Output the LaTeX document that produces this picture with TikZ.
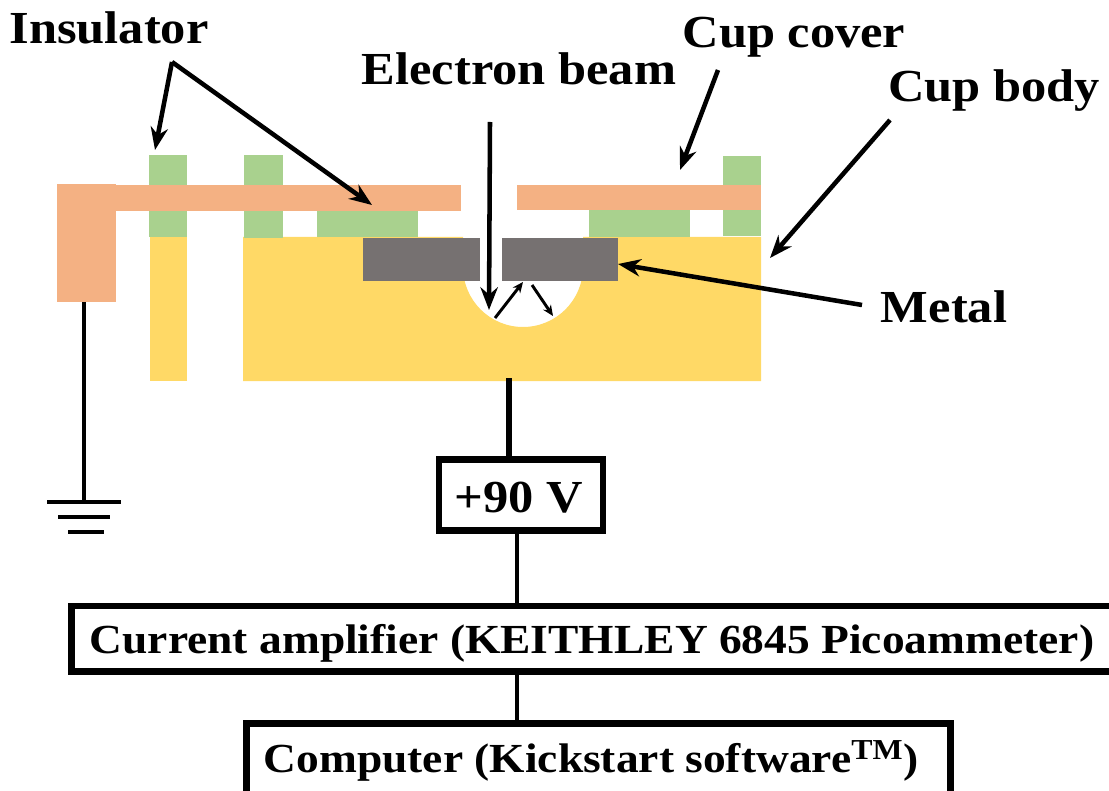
\documentclass[tikz,border=0pt]{standalone}
\usepackage{fontspec}
\setmainfont[FakeStretch=1.1]{Liberation Serif}
\usetikzlibrary{arrows.meta}
\definecolor{cover_c}{HTML}{F4B183}
\definecolor{ins_c}{HTML}{A9D18E}
\definecolor{body_c}{HTML}{FFD966}
\definecolor{metal_c}{HTML}{767171}
\tikzset{
	part_cover/.style = {
		fill=cover_c
	},
	part_ins/.style = {
		fill=ins_c
	},
	part_body/.style = {
		fill=body_c
	},
	part_metal/.style = {
		fill=metal_c
	},
	node_label/.style = {
		inner sep=0pt,
		anchor=base,
		font=\fontsize{34.4}{40}\selectfont\bfseries
	},
	node_box/.style = {
		node_label,
		rectangle,
		anchor=center,
		draw=black,
		fill=white,
		line width=5pt,
		font=\fontsize{31}{36}\selectfont\bfseries
	},
	leader/.style = {
		-{Stealth[length=17pt,width=13pt]},
		line width=3.4pt
	},
	leader_thin/.style = {
		-{Stealth[length=8pt,width=7pt]},
		line width=2.2pt
	},
	wire/.style = {
		line width=3pt
	},
}
\newcommand{\boxtext}[2]{\raisebox{#1}[0pt][0pt]{#2}}
\begin{document}
\begin{tikzpicture}[x=0.75pt,y=-0.75pt]
\useasboundingbox (0,0) rectangle (1109,791);
% cup body
\fill [part_body] (150,237) rectangle (187,381);
\fill [part_body] (243,237) -- (463,237) -- (463,267) arc[start angle=180, end angle=0, radius=60] -- (583,237) -- (761,237) -- (761,381) -- (243,381) -- cycle;
% insulator
\fill [part_ins] (149,155) rectangle (187,185);
\fill [part_ins] (149,208) rectangle (187,237);
\fill [part_ins] (244,155) rectangle (283,185);
\fill [part_ins] (244,208) rectangle (283,238);
\fill [part_ins] (317,208) rectangle (418,237);
\fill [part_ins] (589,208) rectangle (690,237);
\fill [part_ins] (723,156) rectangle (761,185);
\fill [part_ins] (723,208) rectangle (761,236);
% cup cover
\fill [part_cover] (57,184) rectangle (116,302);
\fill [part_cover] (116,185) rectangle (461,211);
\fill [part_cover] (517,185) rectangle (761,210);
% metal
\fill [part_metal] (363,238) rectangle (480,281);
\fill [part_metal] (502,238) rectangle (618,281);

% labels
\node [node_label] (insulator) at (109,44) {Insulator};
\node [node_label] (beam) at (519,85) {Electron beam};
\node [node_label] (cover) at (794,48) {Cup cover};
\node [node_label] (body) at (994,102) {Cup body};
\node [node_label] (metal) at (944,323) {Metal};

% boxes
\node [node_box, font=\fontsize{34.4}{40}\selectfont\bfseries, minimum width=123pt, minimum height=53pt] (volt) at (521,495) {\boxtext{-12.75pt}{+90 V}\hspace*{3pt}};
\node [node_box, minimum width=781pt, minimum height=49pt] (amp) at (592,638.5) {\boxtext{-10.9pt}{Current amplifier (KEITHLEY 6845 Picoammeter)}};
\node [node_box, minimum width=528pt, minimum height=56pt] (comp) at (598.5,761) {\boxtext{-8.25pt}{Computer (Kickstart software\textsuperscript{TM})}\hspace*{11pt}};

% free ends
\coordinate (ins_start) at (172,62);
\coordinate (ins_a) at (155,150);
\coordinate (ins_b) at (372,205);
\coordinate (beam_start) at (490,122);
\coordinate (beam_end) at (489,310);
\coordinate (em_a) at (495,318);
\coordinate (em_b) at (523,282);
\coordinate (em_c) at (532,285);
\coordinate (em_d) at (553,316);
\coordinate (cover_start) at (718,70);
\coordinate (cover_end) at (680,170);
\coordinate (body_start) at (890,120);
\coordinate (body_end) at (770,258);
\coordinate (metal_start) at (862,305);
\coordinate (metal_end) at (618,264);
\coordinate (cup_out) at (509,378);
\coordinate (gnd_top) at (84,302);
\coordinate (gnd_a) at (84,502);
\coordinate (gnd_al) at (47,502);
\coordinate (gnd_ar) at (121,502);
\coordinate (gnd_bl) at (58,517);
\coordinate (gnd_br) at (110,517);
\coordinate (gnd_cl) at (68,532);
\coordinate (gnd_cr) at (104,532);
\coordinate (wire_x) at (517,0);

\draw [leader] (ins_start) -- (ins_a);
\draw [leader] (ins_start) -- (ins_b);
\draw [leader] (beam_start) -- (beam_end);
\draw [leader_thin] (em_a) -- (em_b);
\draw [leader_thin] (em_c) -- (em_d);
\draw [leader] (cover_start) -- (cover_end);
\draw [leader] (body_start) -- (body_end);
\draw [leader] (metal_start) -- (metal_end);

\draw [wire] (gnd_top) -- (gnd_a);
\draw [wire] (gnd_al) -- (gnd_ar);
\draw [wire] (gnd_bl) -- (gnd_br);
\draw [wire] (gnd_cl) -- (gnd_cr);
\draw [wire, line width=4pt] (cup_out) -- (cup_out |- volt.north);
\draw [wire] (wire_x |- volt.south) -- (wire_x |- amp.north);
\draw [wire] (wire_x |- amp.south) -- (wire_x |- comp.north);
\end{tikzpicture}
\end{document}
